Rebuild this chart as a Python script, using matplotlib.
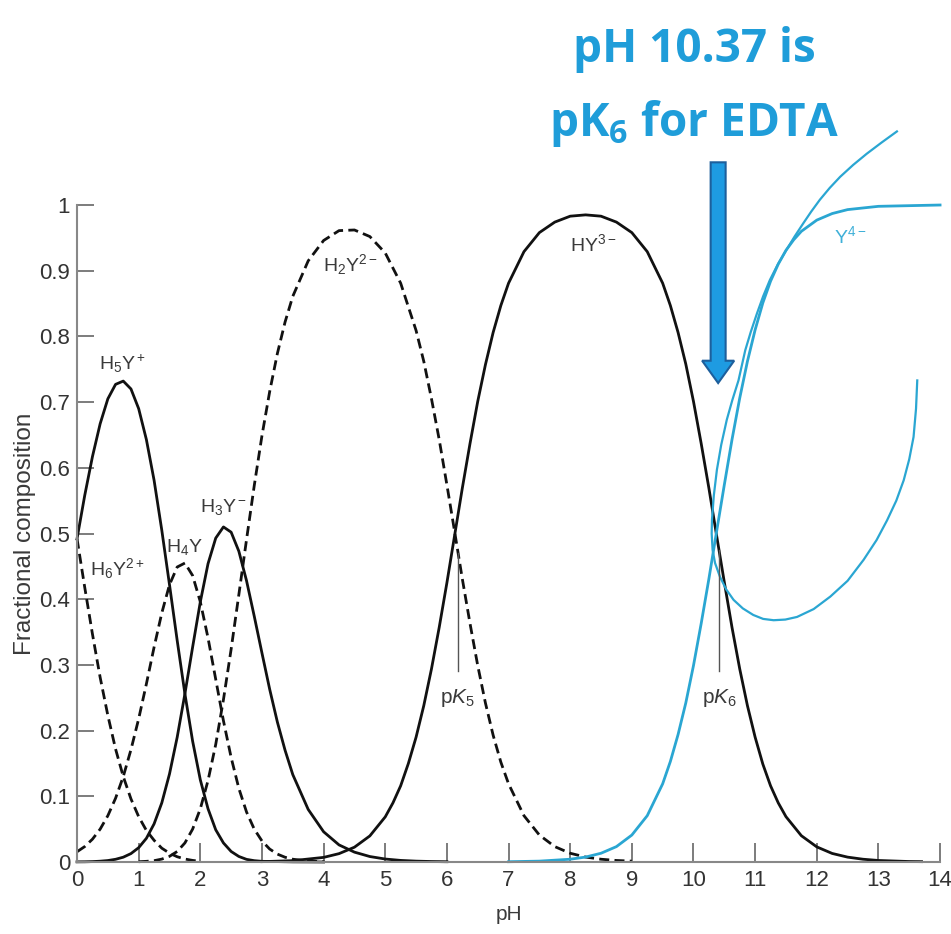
import matplotlib
matplotlib.use("Agg")
import matplotlib.pyplot as plt
from matplotlib.patches import FancyArrow

plt.rcParams['font.family'] = ['Liberation Sans', 'DejaVu Sans']
plt.rcParams['mathtext.fontset'] = 'custom'
plt.rcParams['mathtext.rm'] = 'Liberation Sans'
plt.rcParams['mathtext.it'] = 'Liberation Sans:italic'
plt.rcParams['mathtext.bf'] = 'Open Sans:bold'

# fractional composition of the EDTA species
ph_h6y = [0, 0.125, 0.25, 0.375, 0.5, 0.625, 0.75, 0.875, 1.0, 1.125, 1.25, 1.375,
          1.5, 1.625, 1.75, 1.875, 2.0]
h6y = [0.492, 0.418, 0.347, 0.281, 0.223, 0.172, 0.130, 0.096, 0.069, 0.048, 0.033,
       0.021, 0.0134, 0.008, 0.0045, 0.0024, 0.001]

ph_h5y = [0, 0.125, 0.25, 0.375, 0.5, 0.625, 0.75, 0.875, 1.0, 1.125, 1.25, 1.375,
          1.5, 1.625, 1.75, 1.875, 2.0, 2.125, 2.25, 2.375, 2.5, 2.625, 2.75, 2.875,
          3.0, 3.5, 4.0]
h5y = [0.492, 0.558, 0.617, 0.667, 0.705, 0.727, 0.732, 0.720, 0.690, 0.643, 0.581,
       0.505, 0.422, 0.337, 0.256, 0.184, 0.125, 0.081, 0.049, 0.029, 0.016, 0.0084,
       0.004, 0.002, 0.001, 0.0002, 0.0]

ph_h4y = [0, 0.125, 0.25, 0.375, 0.5, 0.625, 0.75, 0.875, 1.0, 1.125, 1.25, 1.375,
          1.5, 1.625, 1.75, 1.875, 2.0, 2.125, 2.25, 2.375, 2.5, 2.625, 2.75, 2.875,
          3.0, 3.125, 3.25, 3.375, 3.5, 3.75, 4.0]
h4y = [0.0156, 0.0235, 0.0347, 0.050, 0.0705, 0.097, 0.130, 0.171, 0.218, 0.271,
       0.327, 0.379, 0.422, 0.449, 0.455, 0.436, 0.396, 0.341, 0.278, 0.215, 0.159,
       0.112, 0.076, 0.050, 0.032, 0.0197, 0.012, 0.0072, 0.0042, 0.0014, 0.0005]

ph_h3y = [0, 0.125, 0.25, 0.375, 0.5, 0.625, 0.75, 0.875, 1.0, 1.125, 1.25, 1.375,
          1.5, 1.625, 1.75, 1.875, 2.0, 2.125, 2.25, 2.375, 2.5, 2.625, 2.75, 2.875,
          3.0, 3.125, 3.25, 3.375, 3.5, 3.75, 4.0, 4.25, 4.5, 4.75, 5.0, 5.25, 5.5,
          5.75, 6.0]
h3y = [0.0002, 0.0003, 0.0006, 0.0012, 0.0022, 0.0041, 0.0073, 0.0128, 0.0218, 0.036,
       0.058, 0.090, 0.134, 0.190, 0.256, 0.327, 0.396, 0.454, 0.493, 0.510, 0.502,
       0.473, 0.428, 0.374, 0.318, 0.263, 0.213, 0.170, 0.133, 0.080, 0.046, 0.026,
       0.015, 0.0083, 0.0045, 0.0024, 0.0013, 0.0007, 0.0004]

ph_h2y = [1.0, 1.125, 1.25, 1.375, 1.5, 1.625, 1.75, 1.875, 2.0, 2.125, 2.25, 2.375,
          2.5, 2.625, 2.75, 2.875, 3.0, 3.125, 3.25, 3.375, 3.5, 3.75, 4.0, 4.25, 4.5,
          4.75, 5.0, 5.25, 5.5, 5.625, 5.75, 5.875, 6.0, 6.125, 6.25, 6.375, 6.5,
          6.625, 6.75, 6.875, 7.0, 7.25, 7.5, 7.75, 8.0, 8.25, 8.5, 8.75, 9.0]
h2y = [0.0004, 0.001, 0.002, 0.0044, 0.0086, 0.016, 0.029, 0.050, 0.081, 0.124, 0.179,
       0.247, 0.324, 0.407, 0.491, 0.573, 0.649, 0.716, 0.774, 0.822, 0.861, 0.915,
       0.946, 0.961, 0.962, 0.952, 0.927, 0.881, 0.809, 0.762, 0.705, 0.643, 0.574,
       0.503, 0.431, 0.363, 0.299, 0.242, 0.193, 0.152, 0.119, 0.0705, 0.041, 0.0234,
       0.0133, 0.0075, 0.0042, 0.0023, 0.0013]

ph_hy = [3.0, 3.5, 4.0, 4.25, 4.5, 4.75, 5.0, 5.125, 5.25, 5.375, 5.5, 5.625, 5.75,
         5.875, 6.0, 6.125, 6.25, 6.375, 6.5, 6.625, 6.75, 6.875, 7.0, 7.25, 7.5, 7.75,
         8.0, 8.25, 8.5, 8.75, 9.0, 9.25, 9.5, 9.625, 9.75, 9.875, 10.0, 10.125, 10.25,
         10.375, 10.5, 10.625, 10.75, 10.875, 11.0, 11.125, 11.25, 11.375, 11.5, 11.75,
         12.0, 12.25, 12.5, 12.75, 13.0, 13.5, 13.7]
hy = [0.0005, 0.002, 0.007, 0.0127, 0.0225, 0.0397, 0.0687, 0.090, 0.116, 0.150,
      0.190, 0.238, 0.294, 0.357, 0.425, 0.497, 0.569, 0.637, 0.701, 0.757, 0.806,
      0.847, 0.881, 0.929, 0.958, 0.974, 0.983, 0.985, 0.983, 0.974, 0.958, 0.929,
      0.881, 0.847, 0.806, 0.758, 0.701, 0.637, 0.569, 0.497, 0.426, 0.357, 0.294,
      0.238, 0.190, 0.149, 0.116, 0.090, 0.069, 0.040, 0.023, 0.013, 0.0074, 0.0042,
      0.0023, 0.0007, 0.0005]

ph_y = [7.0, 7.5, 8.0, 8.25, 8.5, 8.75, 9.0, 9.25, 9.5, 9.625, 9.75, 9.875, 10.0,
        10.125, 10.25, 10.375, 10.5, 10.625, 10.75, 10.875, 11.0, 11.125, 11.25, 11.375,
        11.5, 11.625, 11.75, 12.0, 12.25, 12.5, 13.0, 13.5, 14.0]
y4 = [0.0004, 0.0013, 0.0042, 0.0075, 0.0133, 0.0234, 0.041, 0.0705, 0.119, 0.153,
      0.194, 0.242, 0.299, 0.363, 0.431, 0.503, 0.574, 0.643, 0.706, 0.762, 0.810,
      0.851, 0.884, 0.910, 0.931, 0.947, 0.960, 0.977, 0.987, 0.993, 0.998, 0.999, 1.0]

# hand drawn blue stroke over the Y4- curve
stroke_x = [13.30, 13.05, 12.81, 12.59, 12.38, 12.21, 12.05, 11.91, 11.78, 11.64,
            11.51, 11.37, 11.24, 11.13, 11.03, 10.93, 10.84, 10.73, 10.63, 10.54,
            10.45, 10.38, 10.33, 10.30, 10.295, 10.31, 10.35, 10.43, 10.53, 10.65,
            10.80, 10.97, 11.13, 11.30, 11.49, 11.68, 11.95, 12.22, 12.50, 12.76,
            12.97, 13.14, 13.29, 13.41, 13.50, 13.57, 13.61, 13.63]
stroke_y = [1.112, 1.095, 1.078, 1.061, 1.043, 1.026, 1.008, 0.990, 0.972, 0.952,
            0.932, 0.910, 0.886, 0.861, 0.835, 0.807, 0.779, 0.733, 0.703, 0.673,
            0.635, 0.597, 0.558, 0.521, 0.500, 0.475, 0.455, 0.434, 0.415, 0.399,
            0.386, 0.376, 0.370, 0.368, 0.369, 0.373, 0.385, 0.404, 0.428, 0.460,
            0.490, 0.520, 0.550, 0.581, 0.613, 0.647, 0.690, 0.733]

pk5 = 6.18
pk6 = 10.42

blue = '#2AA6D2'
title_blue = '#1F9DD9'
ink = '#111111'
label_c = '#3a3a3a'

fig = plt.figure(figsize=(9.51, 9.34), dpi=100)
ax = fig.add_axes([0.081, 0.0771, 0.9075, 0.7034])

dash = (0, (3.6, 1.9))
lw = 2.0
ax.plot(ph_h6y, h6y, color=ink, lw=lw, ls=dash, clip_on=False)
ax.plot(ph_h5y, h5y, color=ink, lw=lw, clip_on=False)
ax.plot(ph_h4y, h4y, color=ink, lw=lw, ls=dash, clip_on=False)
ax.plot(ph_h3y, h3y, color=ink, lw=lw, clip_on=False)
ax.plot(ph_h2y, h2y, color=ink, lw=lw, ls=dash, clip_on=False)
ax.plot(ph_hy, hy, color=ink, lw=lw, clip_on=False)
ax.plot(ph_y, y4, color=blue, lw=2.0, clip_on=False)
ax.plot(stroke_x, stroke_y, color=blue, lw=1.6, clip_on=False)

# pK markers
ax.plot([pk5, pk5], [0.29, 0.47], color='#555555', lw=1)
ax.plot([pk6, pk6], [0.29, 0.475], color='#555555', lw=1)
ax.text(pk5, 0.25, r'p$K_5$', ha='center', va='center', fontsize=15, color=label_c)
ax.text(pk6, 0.25, r'p$K_6$', ha='center', va='center', fontsize=15, color=label_c)

# species labels
lab = dict(ha='center', va='center', fontsize=14, color=label_c)
ax.text(0.73, 0.758, r'H$_5$Y$^+$', **lab)
ax.text(0.66, 0.447, r'H$_6$Y$^{2+}$', **lab)
ax.text(1.75, 0.48, r'H$_4$Y', **lab)
ax.text(2.37, 0.54, r'H$_3$Y$^-$', **lab)
ax.text(4.43, 0.91, r'H$_2$Y$^{2-}$', **lab)
ax.text(8.38, 0.94, r'HY$^{3-}$', **lab)
ax.text(12.54, 0.953, r'Y$^{4-}$', ha='center', va='center', fontsize=14, color='#3FB0D8')

# annotation
ax.text(10.01, 1.218, 'pH 10.37 is', ha='center', va='baseline', fontsize=33,
        family='Open Sans', fontweight='bold', color=title_blue, clip_on=False)
ax.text(10.01, 1.105, r'pK$_\mathbf{6}$ for EDTA', ha='center', va='baseline', fontsize=33,
        family='Open Sans', fontweight='bold', color=title_blue, clip_on=False)
ax.add_patch(FancyArrow(10.40, 1.065, 0, -0.336, width=0.243, head_width=0.52,
                        head_length=0.034, length_includes_head=True,
                        facecolor='#1E9BE2', edgecolor='#1D5F9C', lw=1.5, clip_on=False))

ax.set_xlim(0, 14)
ax.set_ylim(0, 1)
ax.set_xticks(range(15))
ax.set_yticks([0, 0.1, 0.2, 0.3, 0.4, 0.5, 0.6, 0.7, 0.8, 0.9, 1])
ax.set_yticklabels(['0', '0.1', '0.2', '0.3', '0.4', '0.5', '0.6', '0.7', '0.8', '0.9', '1'])
ax.tick_params(direction='in', length=14, width=1.2, color='#666666',
               labelsize=16, labelcolor='#333333')
ax.tick_params(axis='y', length=12, pad=5)
ax.tick_params(axis='x', pad=6)
for s in ['top', 'right']:
    ax.spines[s].set_visible(False)
for s in ['left', 'bottom']:
    ax.spines[s].set_color('#888888')
    ax.spines[s].set_linewidth(1.5)

ax.set_xlabel('pH', fontsize=15, color=label_c, labelpad=10)
ax.set_ylabel('Fractional composition', fontsize=17.5, color=label_c, labelpad=2)

fig.savefig('out.png', dpi=100)
